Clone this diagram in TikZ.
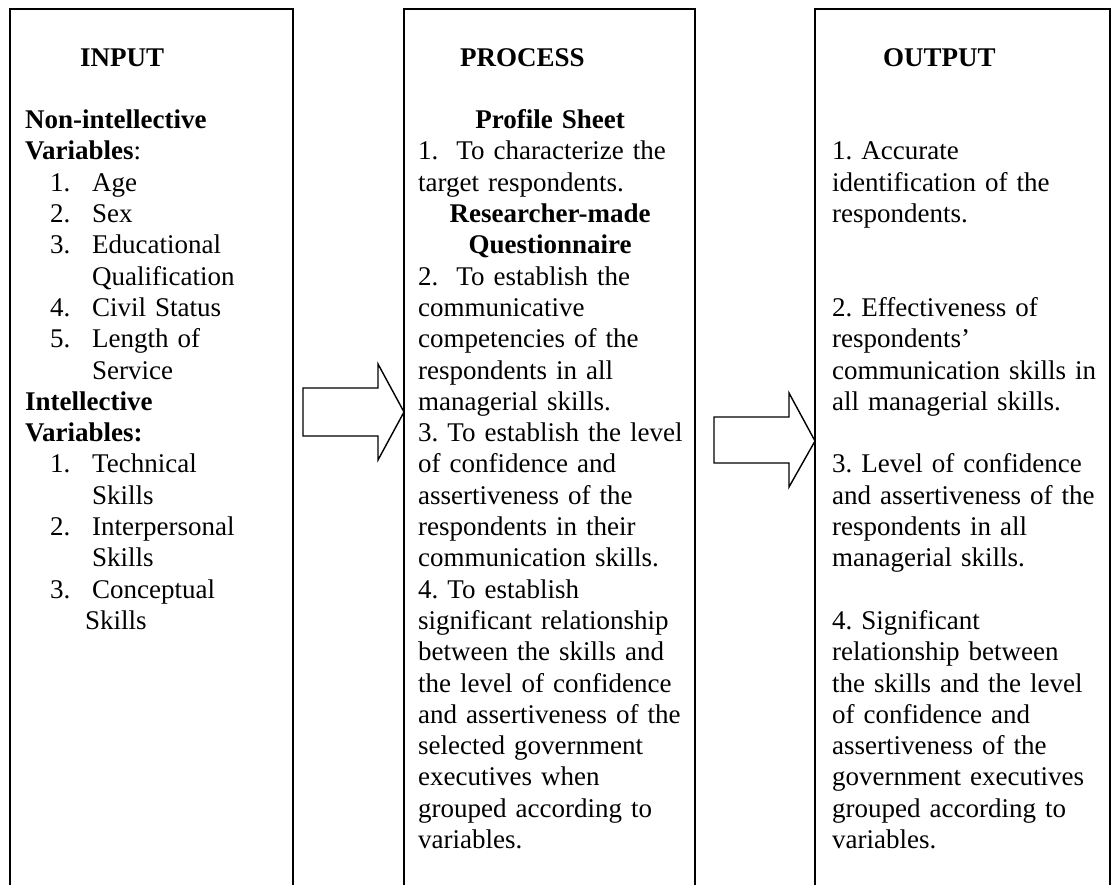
\documentclass[tikz,border=0pt]{standalone}
\usepackage{fontspec}
\setmainfont{Liberation Serif}
\usepackage{tikz}
\frenchspacing

\tikzset{
  colbox/.style={draw, line width=2.4pt, outer sep=0pt, inner sep=0pt, anchor=north west, minimum height=940pt},
  coltext/.style={anchor=base west, inner sep=0pt, align=left, text width=290pt, font=\fontsize{27}{31.3}\selectfont},
  blockarrow/.style={draw, line width=1.4pt, line join=miter, fill=white}
}
\newcommand{\listnum}[1]{\hspace*{25pt}\makebox[42pt][l]{#1}}
\newcommand{\midbold}[1]{\makebox[264pt]{\textbf{#1}}}

\begin{document}
\begin{tikzpicture}[x=1pt, y=-1pt]
        \useasboundingbox (0,0) rectangle (1115,884);
        \clip (0,0) rectangle (1115,884);
        \node[colbox, minimum width=283pt] (inputbox) at (10,9) {};
        \node[colbox, minimum width=291pt] (processbox) at (404,9) {};
        \node[colbox, minimum width=295pt] (outputbox) at (815,9) {};
        \node[coltext] (inputtext) at (25,66) {%
          \hspace*{55pt}\textbf{INPUT}\\
          \mbox{}\\
          \textbf{Non-intellective}\\
          \textbf{Variables}:\\
          \listnum{1.}Age\\
          \listnum{2.}Sex\\
          \listnum{3.}Educational\\
          \hspace*{67pt}Qualification\\
          \listnum{4.}Civil Status\\
          \listnum{5.}Length of\\
          \hspace*{67pt}Service\\
          \textbf{Intellective}\\
          \textbf{Variables:}\\
          \listnum{1.}Technical\\
          \hspace*{67pt}Skills\\
          \listnum{2.}Interpersonal\\
          \hspace*{67pt}Skills\\
          \listnum{3.}Conceptual\\
          \hspace*{60pt}Skills};
        \node[coltext] (processtext) at (418,66) {%
          \hspace*{42pt}\textbf{PROCESS}\\
          \mbox{}\\
          \midbold{Profile Sheet}\\
          1.\ \ To characterize the\\
          target respondents.\\
          \midbold{Researcher-made}\\
          \midbold{Questionnaire}\\
          2.\ \ To establish the\\
          communicative\\
          competencies of the\\
          respondents in all\\
          managerial skills.\\
          3. To establish the level\\
          of confidence and\\
          assertiveness of the\\
          respondents in their\\
          communication skills.\\
          4. To establish\\
          significant relationship\\
          between the skills and\\
          the level of confidence\\
          and assertiveness of the\\
          selected government\\
          executives when\\
          grouped according to\\
          variables.};
        \node[coltext] (outputtext) at (832,66) {%
          \hspace*{51pt}\textbf{OUTPUT}\\
          \mbox{}\\
          \mbox{}\\
          1. Accurate\\
          identification of the\\
          respondents.\\
          \mbox{}\\
          \mbox{}\\
          2. Effectiveness of\\
          respondents'\\
          communication skills in\\
          all managerial skills.\\
          \mbox{}\\
          3. Level of confidence\\
          and assertiveness of the\\
          respondents in all\\
          managerial skills.\\
          \mbox{}\\
          4. Significant\\
          relationship between\\
          the skills and the level\\
          of confidence and\\
          assertiveness of the\\
          government executives\\
          grouped according to\\
          variables.};
        \coordinate (tipa) at (processbox.west |- 0,412);
        \coordinate (tipb) at (outputbox.west |- 0,441);
        \draw[blockarrow] (tipa) -- ++(-26,-48) -- ++(0,24) -- ++(-75,0) -- ++(0,48) -- ++(75,0) -- ++(0,24) -- cycle;
        \draw[blockarrow] (tipb) -- ++(-26,-48) -- ++(0,24) -- ++(-75,0) -- ++(0,46) -- ++(75,0) -- ++(0,24) -- cycle;
\end{tikzpicture}
\end{document}
